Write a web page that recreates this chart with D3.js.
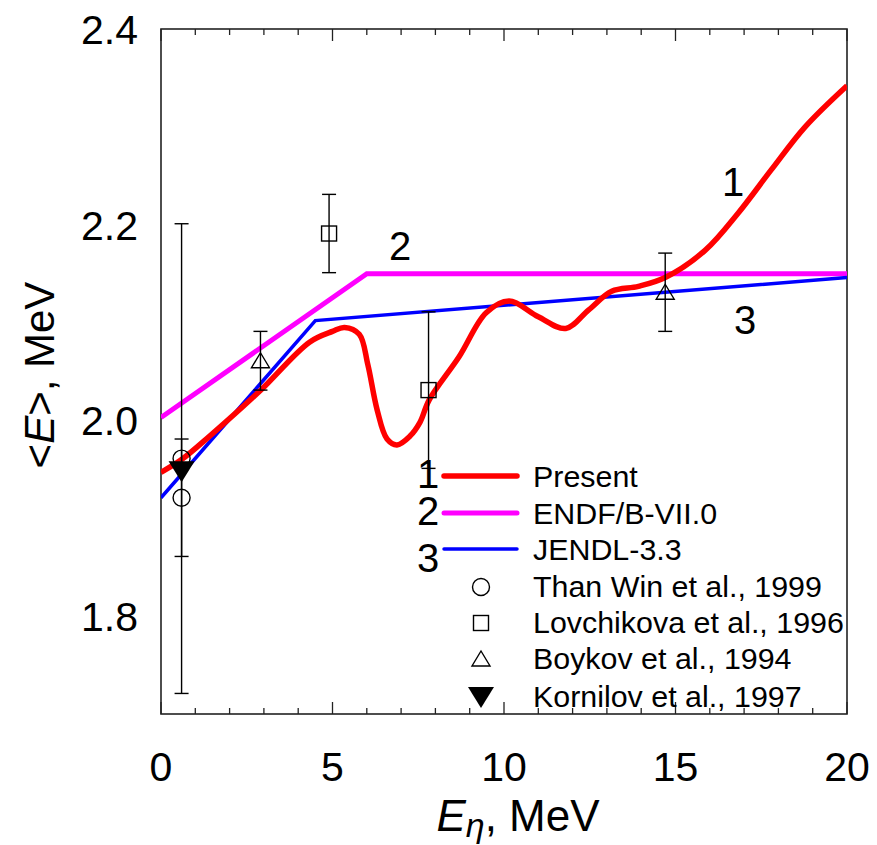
<!DOCTYPE html>
<html>
<head>
<meta charset="utf-8">
<script src="https://cdn.jsdelivr.net/npm/d3@7"></script>
<style>
  body { margin: 0; background: #fff; }
  text { font-family: "Liberation Sans", Arial, sans-serif; fill: #000; }
</style>
</head>
<body>
<svg id="chart" width="877" height="845"></svg>
<script>
// Mean energy <E> of neutron spectrum vs incident neutron energy

// Curve 1: present calculation
const presentE = [0, 0.6, 1.42, 2.88, 4.33, 5.0, 5.35, 5.78, 6.03, 6.3, 6.59, 6.88, 7.26, 7.55, 7.82, 8.69, 9.48, 10.15, 11.0, 11.8, 12.47, 13.14, 13.92, 14.7, 15.87, 16.83, 17.79, 18.78, 20];
const presentV = [1.947, 1.960, 1.984, 2.030, 2.080, 2.091, 2.095, 2.088, 2.057, 2.011, 1.981, 1.975, 1.984, 1.998, 2.021, 2.065, 2.110, 2.122, 2.106, 2.094, 2.113, 2.132, 2.137, 2.146, 2.174, 2.212, 2.256, 2.300, 2.342];

// Curve 2: ENDF/B-VII.0
const endfE = [0, 6, 20];
const endfV = [2.003, 2.150, 2.150];

// Curve 3: JENDL-3.3
const jendlE = [0, 4.5, 20];
const jendlV = [1.921, 2.102, 2.146];

// Experimental points
const thanWinE = [0.6, 0.6];
const thanWinV = [1.961, 1.921];
const thanWinErr = [0.24, 0.06];

const lovchikovaE = [4.9, 7.8];
const lovchikovaV = [2.191, 2.031];
const lovchikovaErr = [0.04, 0.08];

const boykovE = [2.9, 14.7];
const boykovV = [2.061, 2.131];
const boykovErr = [0.03, 0.04];

const kornilovE = [0.6];
const kornilovV = [1.948];

// Axis ticks
const xTickLabels = [0, 5, 10, 15, 20];
const xMinorTicks = d3.range(0, 21, 1);
const yTickLabels = [1.8, 2.0, 2.2, 2.4];

const legendLines = ["Present", "ENDF/B-VII.0", "JENDL-3.3"];
const legendPoints = ["Than Win et al., 1999", "Lovchikova et al., 1996", "Boykov et al., 1994", "Kornilov et al., 1997"];

const svg = d3.select("#chart");
const pLeft = 161, pRight = 847, pTop = 29, pBottom = 714;

const x = d3.scaleLinear().domain([0, 20]).range([pLeft, pRight]);
const y = d3.scaleLinear().domain([1.7, 2.4]).range([pBottom, pTop]);

const zip = (a, b) => a.map((v, i) => [v, b[i]]);

// Frame
svg.append("rect")
  .attr("x", pLeft).attr("y", pTop)
  .attr("width", pRight - pLeft).attr("height", pBottom - pTop)
  .attr("fill", "none").attr("stroke", "#222").attr("stroke-width", 1.6);

// Inward ticks on bottom and top edges
const tickG = svg.append("g").attr("stroke", "#222").attr("stroke-width", 1.3);
xMinorTicks.forEach(v => {
  const len = v % 5 === 0 ? 12 : 6;
  tickG.append("line").attr("x1", x(v)).attr("x2", x(v)).attr("y1", pBottom).attr("y2", pBottom - len);
  tickG.append("line").attr("x1", x(v)).attr("x2", x(v)).attr("y1", pTop).attr("y2", pTop + len);
});

// Tick labels
svg.append("g").selectAll("text").data(xTickLabels).join("text")
  .attr("x", d => x(d)).attr("y", 781)
  .attr("text-anchor", "middle").attr("font-size", 41)
  .text(d => d);

svg.append("g").selectAll("text").data(yTickLabels).join("text")
  .attr("x", 138).attr("y", d => y(d) + 15)
  .attr("text-anchor", "end").attr("font-size", 41)
  .text(d => d.toFixed(1));

// Axis titles
const xt = svg.append("text").attr("x", 518).attr("y", 831).attr("text-anchor", "middle").attr("font-size", 44);
xt.append("tspan").attr("font-style", "italic").text("E");
xt.append("tspan").attr("font-style", "italic").attr("font-size", 34).attr("dy", 6).text("η");
xt.append("tspan").attr("dy", -6).text(", MeV");

const yt = svg.append("text")
  .attr("transform", "translate(54,375) rotate(-90)")
  .attr("text-anchor", "middle").attr("font-size", 42);
yt.append("tspan").text("<");
yt.append("tspan").attr("font-style", "italic").text("E");
yt.append("tspan").text(">, MeV");

// Clip curves to the plotting area
svg.append("clipPath").attr("id", "plotClip")
  .append("rect").attr("x", pLeft).attr("y", pTop).attr("width", pRight - pLeft).attr("height", pBottom - pTop);

const plot = svg.append("g").attr("clip-path", "url(#plotClip)");

const linear = d3.line().x(d => x(d[0])).y(d => y(d[1]));
const smooth = d3.line().x(d => x(d[0])).y(d => y(d[1])).curve(d3.curveCatmullRom.alpha(0.5));

plot.append("path").datum(zip(endfE, endfV)).attr("d", linear)
  .attr("fill", "none").attr("stroke", "#ff00ff").attr("stroke-width", 5);
plot.append("path").datum(zip(jendlE, jendlV)).attr("d", linear)
  .attr("fill", "none").attr("stroke", "#0000ff").attr("stroke-width", 3.5);
plot.append("path").datum(zip(presentE, presentV)).attr("d", smooth)
  .attr("fill", "none").attr("stroke", "#ff0000").attr("stroke-width", 5.5)
  .attr("stroke-linejoin", "round");

// Error bars
const errG = svg.append("g").attr("stroke", "#000").attr("stroke-width", 1.4).attr("fill", "none");
function errorBars(E, V, err) {
  E.forEach((e, i) => {
    const cx = x(e), y1 = y(V[i] + err[i]), y2 = y(V[i] - err[i]);
    errG.append("line").attr("x1", cx).attr("x2", cx).attr("y1", y1).attr("y2", y2);
    errG.append("line").attr("x1", cx - 7).attr("x2", cx + 7).attr("y1", y1).attr("y2", y1);
    errG.append("line").attr("x1", cx - 7).attr("x2", cx + 7).attr("y1", y2).attr("y2", y2);
  });
}
errorBars(thanWinE, thanWinV, thanWinErr);
errorBars(lovchikovaE, lovchikovaV, lovchikovaErr);
errorBars(boykovE, boykovV, boykovErr);

// Marker shapes
function drawCircle(g, cx, cy) {
  g.append("circle").attr("cx", cx).attr("cy", cy).attr("r", 8.5)
    .attr("fill", "none").attr("stroke", "#000").attr("stroke-width", 1.4);
}
function drawSquare(g, cx, cy) {
  g.append("rect").attr("x", cx - 7.5).attr("y", cy - 7.5).attr("width", 15).attr("height", 15)
    .attr("fill", "none").attr("stroke", "#000").attr("stroke-width", 1.4);
}
function drawTriUp(g, cx, cy) {
  g.append("path").attr("d", `M${cx},${cy - 8}L${cx + 9},${cy + 7}L${cx - 9},${cy + 7}Z`)
    .attr("fill", "none").attr("stroke", "#000").attr("stroke-width", 1.4);
}
function drawTriDown(g, cx, cy) {
  g.append("path").attr("d", `M${cx - 13},${cy - 10}L${cx + 13},${cy - 10}L${cx},${cy + 11}Z`)
    .attr("fill", "#000");
}

const markG = svg.append("g");
thanWinE.forEach((e, i) => drawCircle(markG, x(e), y(thanWinV[i])));
lovchikovaE.forEach((e, i) => drawSquare(markG, x(e), y(lovchikovaV[i])));
boykovE.forEach((e, i) => drawTriUp(markG, x(e), y(boykovV[i])));
kornilovE.forEach((e, i) => drawTriDown(markG, x(e), y(kornilovV[i])));

// Curve number labels
const curveLabels = [["1", 16.68, 2.229], ["2", 6.97, 2.164], ["3", 17.03, 2.088]];
svg.append("g").selectAll("text").data(curveLabels).join("text")
  .attr("x", d => x(d[1])).attr("y", d => y(d[2]))
  .attr("text-anchor", "middle").attr("font-size", 40)
  .text(d => d[0]);

// Legend
const legend = svg.append("g");
const lineColors = ["#ff0000", "#ff00ff", "#0000ff"];
const lineWidths = [5.5, 5, 3.5];
const lineRowsY = [476, 513, 549];
const numBaselines = [488, 525, 572];
legendLines.forEach((name, i) => {
  legend.append("line").attr("x1", 444).attr("x2", 517)
    .attr("y1", lineRowsY[i]).attr("y2", lineRowsY[i])
    .attr("stroke", lineColors[i]).attr("stroke-width", lineWidths[i]).attr("stroke-linecap", "round");
  legend.append("text").attr("x", 428).attr("y", numBaselines[i])
    .attr("text-anchor", "middle").attr("font-size", 40).text(String(i + 1));
  legend.append("text").attr("x", 533).attr("y", lineRowsY[i] + 11)
    .attr("font-size", 30.4).text(name);
});
const pointRowsY = [587, 623, 659, 697];
const pointDrawers = [drawCircle, drawSquare, drawTriUp, drawTriDown];
legendPoints.forEach((name, i) => {
  pointDrawers[i](legend, 481, pointRowsY[i]);
  legend.append("text").attr("x", 533).attr("y", pointRowsY[i] + 10)
    .attr("font-size", 30.4).text(name);
});
</script>
</body>
</html>
